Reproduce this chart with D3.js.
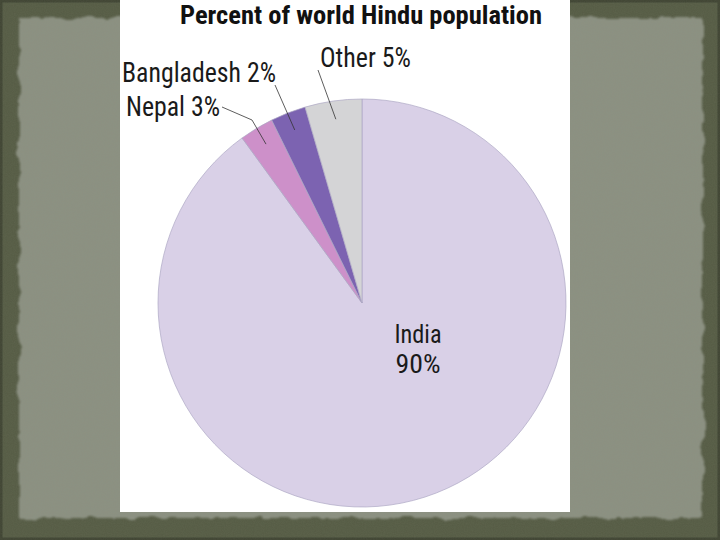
<!DOCTYPE html>
<html>
<head>
<meta charset="utf-8">
<script src="https://cdn.jsdelivr.net/npm/d3@7"></script>
<style>
  html, body { margin: 0; padding: 0; background: #565c45; }
  svg { display: block; }
</style>
</head>
<body>
<svg id="chart" width="720" height="540"></svg>
<script>
// ---- data ----
const categories = ["India", "Nepal", "Bangladesh", "Other"];
const shareLabels = ["90%", "3%", "2%", "5%"];
// slice shares as drawn in the picture (percent)
const drawnShares = [90.0, 2.7, 2.8, 4.5];
const colors = ["#d9d0e7", "#cd90c9", "#7c63b1", "#d4d4d6"];
const titleText = "Percent of world Hindu population";

const svg = d3.select("#chart");
const W = 720, H = 540;

// ---- slide background ----
const defs = svg.append("defs");
const rough = defs.append("filter").attr("id", "rough").attr("x", "-5%").attr("y", "-5%").attr("width", "110%").attr("height", "110%");
rough.append("feTurbulence").attr("type", "fractalNoise").attr("baseFrequency", "0.05").attr("numOctaves", 3).attr("seed", 4).attr("result", "n");
rough.append("feDisplacementMap").attr("in", "SourceGraphic").attr("in2", "n").attr("scale", 9).attr("xChannelSelector", "R").attr("yChannelSelector", "G").attr("result", "d");
rough.append("feGaussianBlur").attr("in", "d").attr("stdDeviation", 0.8);

const grain = defs.append("filter").attr("id", "grain");
grain.append("feTurbulence").attr("type", "fractalNoise").attr("baseFrequency", "0.9").attr("numOctaves", 2).attr("seed", 2).attr("result", "t");
grain.append("feColorMatrix").attr("in", "t").attr("type", "matrix")
  .attr("values", "0 0 0 0 0.3  0 0 0 0 0.32  0 0 0 0 0.25  0 0 0 0.12 0");
grain.append("feComposite").attr("in2", "SourceGraphic").attr("operator", "in");

svg.append("rect").attr("width", W).attr("height", H).attr("fill", "#555b44");
svg.append("rect").attr("x", 0).attr("y", 0).attr("width", W).attr("height", H)
  .attr("fill", "none").attr("stroke", "#3f4432").attr("stroke-width", 5);
svg.append("rect").attr("x", 19).attr("y", 18).attr("width", 684).attr("height", 500)
  .attr("fill", "#8b9081").attr("filter", "url(#rough)");
svg.append("rect").attr("width", W).attr("height", H).attr("fill", "#888").attr("filter", "url(#grain)");

// ---- white chart panel ----
svg.append("rect").attr("x", 120).attr("y", 0).attr("width", 450).attr("height", 512).attr("fill", "#ffffff");

// ---- title ----
const fontStack = "'Liberation Sans Narrow', 'Roboto Condensed', 'Liberation Sans', Arial, sans-serif";
svg.append("text")
  .attr("x", 180).attr("y", 24)
  .attr("font-family", fontStack).attr("font-weight", "bold").attr("font-size", 25)
  .attr("textLength", 362).attr("lengthAdjust", "spacingAndGlyphs")
  .attr("fill", "#111").text(titleText);

// ---- pie ----
const cx = 362, cy = 303, R = 204;
const g = svg.append("g").attr("transform", `translate(${cx},${cy})`);
const pie = d3.pie().sort(null).value(d => d);
const arcs = pie(drawnShares);
const arc = d3.arc().innerRadius(0).outerRadius(R);

g.selectAll("path.slice").data(arcs).join("path")
  .attr("class", "slice")
  .attr("d", arc)
  .attr("fill", (d, i) => colors[i])
  .attr("stroke", "#aea8c4").attr("stroke-width", 0.7);

// ---- labels ----
const labelArc = d3.arc().innerRadius(R * 0.91).outerRadius(R * 0.91);
function endPoint(i) { const c = labelArc.centroid(arcs[i]); return [cx + c[0], cy + c[1]]; }

// India label inside slice
svg.append("text").attr("x", 418).attr("y", 343).attr("text-anchor", "middle")
  .attr("font-family", fontStack).attr("font-size", 26)
  .attr("textLength", 47).attr("lengthAdjust", "spacingAndGlyphs")
  .attr("fill", "#1a1a1a").text(categories[0]);
svg.append("text").attr("x", 418).attr("y", 373).attr("text-anchor", "middle")
  .attr("font-family", fontStack).attr("font-size", 26)
  .attr("textLength", 45).attr("lengthAdjust", "spacingAndGlyphs")
  .attr("fill", "#1a1a1a").text(shareLabels[0]);

// outer labels with leader lines
const outer = [
  { i: 3, x: 320, y: 67, w: 91, pts: [[318, 70]] },
  { i: 2, x: 122, y: 82, w: 154, pts: [[275, 85]] },
  { i: 1, x: 126, y: 116, w: 94, pts: [[222, 107], [252, 120]] }
];
outer.forEach(o => {
  svg.append("text").attr("x", o.x).attr("y", o.y)
    .attr("font-family", fontStack).attr("font-size", 27)
    .attr("textLength", o.w).attr("lengthAdjust", "spacingAndGlyphs")
    .attr("fill", "#1a1a1a").text(categories[o.i] + " " + shareLabels[o.i]);
  const pts = o.pts.concat([endPoint(o.i)]);
  svg.append("path").attr("d", d3.line()(pts))
    .attr("fill", "none").attr("stroke", "#333").attr("stroke-width", 0.8);
});
</script>
</body>
</html>
